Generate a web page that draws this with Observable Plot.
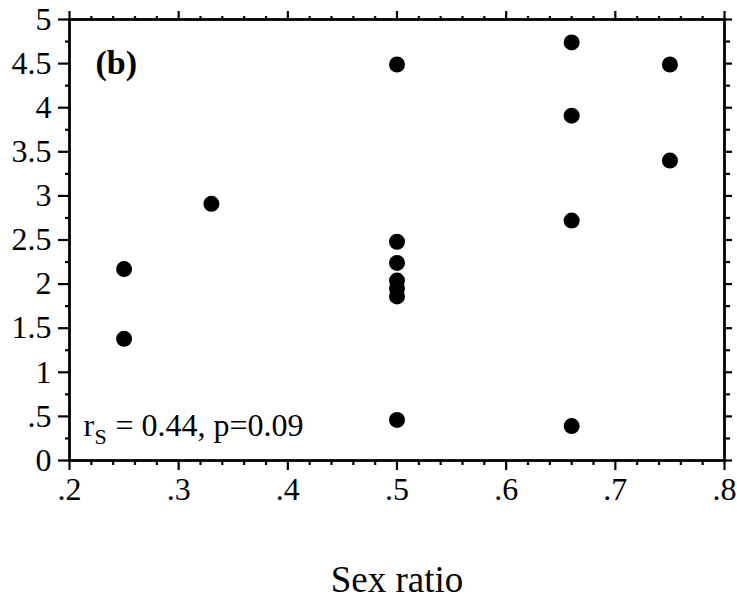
<!DOCTYPE html>
<html>
<head>
<meta charset="utf-8">
<script src="https://cdn.jsdelivr.net/npm/d3@7"></script>
<script src="https://cdn.jsdelivr.net/npm/@observablehq/plot@0.6"></script>
<style>
  body { margin: 0; background: #fff; }
  svg { font-family: "Liberation Serif", "Times New Roman", serif; }
</style>
</head>
<body>
<div id="chart"></div>
<script>
const sexRatio = [0.25, 0.25, 0.33, 0.5, 0.5, 0.5, 0.5, 0.5, 0.5, 0.5, 0.66, 0.66, 0.66, 0.66, 0.75, 0.75];
const values   = [2.17, 1.38, 2.91, 4.49, 2.48, 2.24, 2.04, 1.95, 1.86, 0.46, 4.74, 3.91, 2.72, 0.39, 4.49, 3.40];
const xMajor = [0.2, 0.3, 0.4, 0.5, 0.6, 0.7, 0.8];
const xMinor = [0.22,0.24,0.26,0.28,0.32,0.34,0.36,0.38,0.42,0.44,0.46,0.48,0.52,0.54,0.56,0.58,0.62,0.64,0.66,0.68,0.72,0.74,0.76,0.78];
const yMajor = [0, 0.5, 1, 1.5, 2, 2.5, 3, 3.5, 4, 4.5, 5];
const yMinor = [0.25,0.75,1.25,1.75,2.25,2.75,3.25,3.75,4.25,4.75];
const xLabel = "Sex ratio";
const panelLabel = "(b)";
const statR = "r";
const statSub = "S";
const statText = "= 0.44, p=0.09";

const data = sexRatio.map((x, i) => ({x, y: values[i]}));
const fmtX = d => String(Math.round(d * 10) / 10).replace(/^0/, "");
const fmtY = d => d === 0 ? "0" : String(d).replace(/^0/, "");

const plot = Plot.plot({
  width: 737,
  height: 602,
  marginLeft: 69,
  marginRight: 13,
  marginTop: 19,
  marginBottom: 142,
  style: {fontFamily: "Liberation Serif, Times New Roman, serif", fontSize: "32px", color: "#000", background: "#fff"},
  x: {domain: [0.2, 0.8]},
  y: {domain: [0, 5]},
  marks: [
    Plot.frame({stroke: "#000", strokeWidth: 2.8}),
    Plot.axisX({anchor: "bottom", ticks: xMajor, tickSize: 10, tickPadding: 7, tickFormat: fmtX, fontSize: 32, label: null, strokeWidth: 2.2}),
    Plot.axisX({anchor: "bottom", ticks: xMinor, tickSize: 5, text: null, label: null, strokeWidth: 2.2}),
    Plot.axisX({anchor: "top", ticks: xMajor, tickSize: 9, text: null, label: null, strokeWidth: 2.2}),
    Plot.axisX({anchor: "top", ticks: xMinor, tickSize: 4, text: null, label: null, strokeWidth: 2.2}),
    Plot.axisY({anchor: "left", ticks: yMajor, tickSize: 11, tickPadding: 7, tickFormat: fmtY, fontSize: 32, label: null, strokeWidth: 2.2}),
    Plot.axisY({anchor: "left", ticks: yMinor, tickSize: 4, text: null, label: null, strokeWidth: 2.2}),
    Plot.axisY({anchor: "right", ticks: yMajor, tickSize: 7, text: null, label: null, strokeWidth: 2.2}),
    Plot.axisY({anchor: "right", ticks: yMinor, tickSize: 5, text: null, label: null, strokeWidth: 2.2}),
    Plot.dot(data, {x: "x", y: "y", r: 8, fill: "#000", stroke: null}),
    Plot.text([panelLabel], {frameAnchor: "top-left", dx: 26, dy: 44, fontSize: 34, fontWeight: "bold", fill: "#000", textAnchor: "start", lineAnchor: "middle"}),
    Plot.text([statR], {frameAnchor: "bottom-left", dx: 14, dy: -35, fontSize: 32, fill: "#000", textAnchor: "start", lineAnchor: "middle"}),
    Plot.text([statSub], {frameAnchor: "bottom-left", dx: 25, dy: -24, fontSize: 22, fill: "#000", textAnchor: "start", lineAnchor: "middle"}),
    Plot.text([statText], {frameAnchor: "bottom-left", dx: 46, dy: -35, fontSize: 32, fill: "#000", textAnchor: "start", lineAnchor: "middle"}),
    Plot.text([xLabel], {frameAnchor: "bottom", dy: 120, fontSize: 37, fill: "#000", lineAnchor: "middle"})
  ]
});
document.getElementById("chart").appendChild(plot);
</script>
</body>
</html>
